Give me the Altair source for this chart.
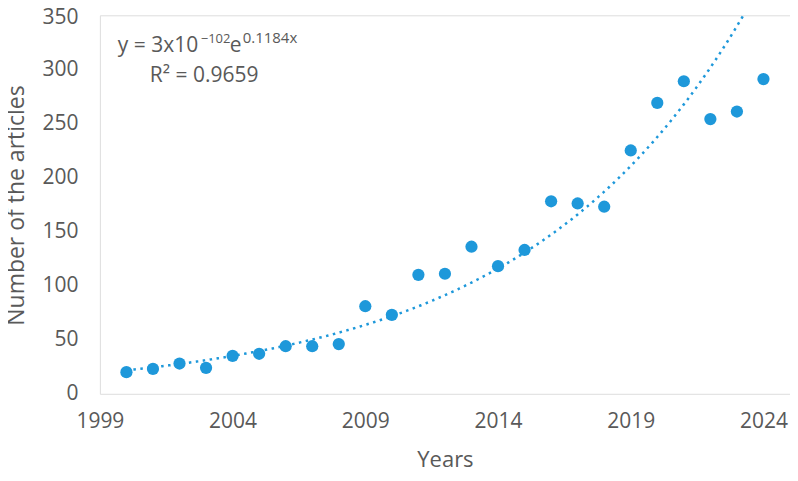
import altair as alt
import numpy as np
import pandas as pd

# ---- data ----
years = list(range(2000, 2025))
articles = [20, 23, 28, 24, 35, 37, 44, 44, 46, 81, 73, 110, 111, 136, 118,
            133, 178, 176, 173, 225, 269, 289, 254, 261, 291]

x_ticks = [1999, 2004, 2009, 2014, 2019, 2024]
y_ticks = [0, 50, 100, 150, 200, 250, 300, 350]

eq_main = "y = 3x10"
eq_exp1 = "\u2212102"
eq_e = "e"
eq_exp2 = "0.1184x"
r2_text = "R\u00b2 = 0.9659"

x_title = "Years"
y_title = "Number of the articles"

# exponential trendline (least squares on ln y, as Excel does)
b, ln_a = np.polyfit(np.array(years, dtype=float), np.log(np.array(articles, dtype=float)), 1)
b = float(b)
ln_a = float(ln_a)

df = pd.DataFrame({"year": years, "count": articles})

COLOR = "#1E98DA"
GREY = "#595959"
FONT = "Open Sans"

x_enc = alt.X("year:Q",
              scale=alt.Scale(domain=[1999, 2025], nice=False, zero=False),
              axis=alt.Axis(values=x_ticks, format="d", title=x_title, grid=False,
                            ticks=False, tickSize=0, domain=False, labelFlush=False,
                            labelFontSize=21, labelColor=GREY, labelPadding=17,
                            titleFontSize=22, titleColor=GREY, titleFontWeight="normal",
                            titleBaseline="alphabetic", titleY=73))
y_enc = alt.Y("count:Q",
              scale=alt.Scale(domain=[0, 350], nice=False),
              axis=alt.Axis(values=y_ticks, title=y_title, grid=False,
                            ticks=False, tickSize=0, domain=False, labelFlush=False,
                            labelFontSize=21, labelColor=GREY, labelPadding=22,
                            labelOffset={"condition": {"test": "datum.value == 350", "value": 2},
                                         "value": 0},
                            titleFontSize=23, titleColor=GREY, titleFontWeight="normal",
                            titleBaseline="alphabetic", titleAlign="center",
                            titleAngle=270, titleX=-76, titleY=190))

trend = alt.Chart(alt.sequence(2000, 2024.05, 0.05, as_="year")).transform_calculate(
    count="exp(%.10f + %.10f * datum.year)" % (ln_a, b)
).mark_line(color=COLOR, strokeWidth=2.5, strokeDash=[2.5, 4.5], clip=True).encode(
    x=x_enc, y=y_enc
)

points = alt.Chart(df).mark_circle(color=COLOR, size=150, opacity=1).encode(
    x=x_enc, y=y_enc
)


def label(txt, x, y, size):
    return alt.Chart(pd.DataFrame({"t": [txt]})).mark_text(
        align="left", baseline="alphabetic", fontSize=size, color=GREY, font=FONT
    ).encode(x=alt.value(x), y=alt.value(y), text="t:N")


texts = [
    label(eq_main, 18, 37, 21),
    label(eq_exp1, 101, 28, 13),
    label(eq_e, 130, 37, 21),
    label(eq_exp2, 143, 28, 15),
    label(r2_text, 50, 67, 21),
]

chart = alt.layer(trend, points, *texts).properties(
    width=691, height=379,
    autosize=alt.AutoSizeParams(type="none"),
    padding={"left": 92, "top": 7, "right": 0, "bottom": 74},
).configure_view(stroke="black", strokeWidth=2).configure(font=FONT)

chart.save("out.html", embed_options={"renderer": "svg", "actions": False})
